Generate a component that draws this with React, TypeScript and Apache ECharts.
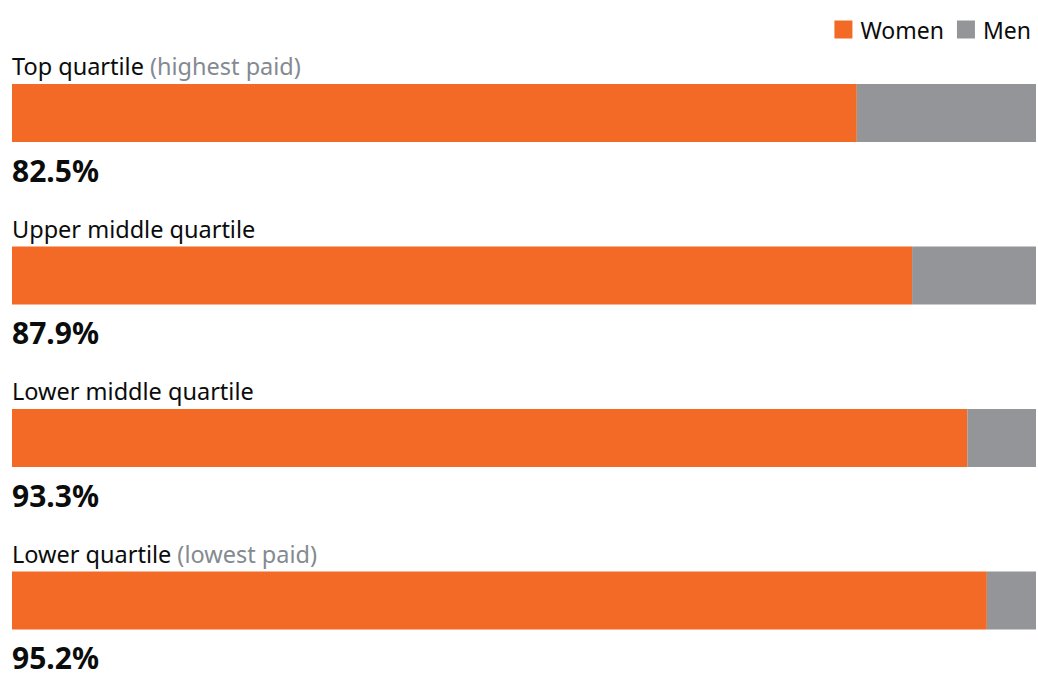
import React, { useEffect, useRef } from "react";
import * as echarts from "echarts";

const categories = ["Top quartile", "Upper middle quartile", "Lower middle quartile", "Lower quartile"];
const notes = ["(highest paid)", "", "", "(lowest paid)"];
const women = [82.5, 87.9, 93.3, 95.2];
const men = [17.5, 12.1, 6.7, 4.8];
const totals = [100, 100, 100, 100];

const FONT = "'Noto Sans', sans-serif";

export default function App() {
  const ref = useRef<HTMLDivElement>(null);
  useEffect(() => {
    if (!ref.current) return;
    const chart = echarts.init(ref.current, null, { renderer: "svg" });
    chart.setOption({
      animation: false,
      textStyle: { fontFamily: FONT },
      legend: {
        right: 2,
        top: 13,
        itemWidth: 18,
        itemHeight: 18,
        itemGap: 13,
        icon: "rect",
        data: ["Women", "Men"],
        textStyle: { fontSize: 23, color: "#0b0c0c", fontFamily: FONT, padding: [0, 0, 0, 3] },
      },
      grid: { left: 12, right: 2, top: 113, height: 487.5 },
      xAxis: { type: "value", min: 0, max: 100, show: false },
      yAxis: { type: "category", data: categories, inverse: true, show: false, boundaryGap: false },
      series: [
        {
          name: "Women",
          type: "bar",
          stack: "total",
          barWidth: 58,
          data: women,
          itemStyle: { color: "#f36926" },
          label: {
            show: true,
            position: [0, 86],
            align: "left",
            verticalAlign: "middle",
            formatter: (p: any) => `${women[p.dataIndex].toFixed(1)}%`,
            fontSize: 30,
            lineHeight: 26,
            fontWeight: "bold",
            color: "#0b0c0c",
            fontFamily: FONT,
          },
        },
        {
          name: "Men",
          type: "bar",
          stack: "total",
          barWidth: 58,
          data: men,
          itemStyle: { color: "#939598" },
        },
        {
          name: "labels",
          type: "bar",
          barWidth: 58,
          barGap: "-100%",
          data: totals,
          silent: true,
          z: 1,
          itemStyle: { color: "rgba(0,0,0,0)" },
          label: {
            show: true,
            position: [0, -5],
            align: "left",
            verticalAlign: "bottom",
            formatter: (p: any) =>
              notes[p.dataIndex]
                ? `{a|${categories[p.dataIndex]}}{s| }{b|${notes[p.dataIndex]}}`
                : `{a|${categories[p.dataIndex]}}`,
            rich: {
              a: { fontSize: 23.5, color: "#0b0c0c", fontFamily: FONT, lineHeight: 26 },
              s: { fontSize: 23.5, fontFamily: FONT, lineHeight: 26, width: 6 },
              b: { fontSize: 23.5, color: "#848a91", fontFamily: FONT, lineHeight: 26 },
            },
          },
        },
      ],
    });
    return () => chart.dispose();
  }, []);
  return (
    <div
      ref={ref}
      style={{ position: "fixed", left: 0, top: 0, width: 1038, height: 673, background: "#fff" }}
    />
  );
}
